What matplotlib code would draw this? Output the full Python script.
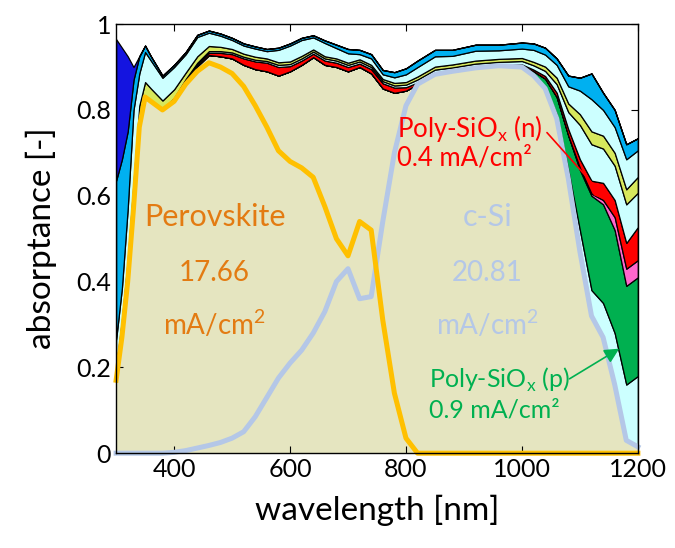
import numpy as np
import matplotlib
matplotlib.use("Agg")
import matplotlib.pyplot as plt
from matplotlib.ticker import FuncFormatter

plt.rcParams['font.family'] = ['Lato', 'DejaVu Sans']

# -------------------------------
# Data (absorptance per layer)
# -------------------------------

wl = [300, 310, 320, 330, 340, 350, 360, 380, 400, 420, 440, 460, 480, 500, 520,
      540, 560, 580, 600, 620, 640, 660, 680, 700, 720, 740, 760, 780, 800, 820,
      850, 880, 920, 960, 1000, 1020, 1040, 1060, 1080, 1100, 1120, 1140, 1160, 1180, 1200]

perovskite = [0.17, 0.27, 0.40, 0.57, 0.76, 0.83, 0.82, 0.80, 0.82, 0.86, 0.89, 0.91, 0.90, 0.885, 0.855,
              0.81, 0.76, 0.705, 0.68, 0.665, 0.643, 0.575, 0.50, 0.46, 0.54, 0.52, 0.31, 0.14, 0.035, 0.0,
              0, 0, 0, 0, 0, 0, 0, 0, 0, 0, 0, 0, 0, 0, 0]

csi = [0, 0, 0, 0, 0, 0, 0, 0, 0.002, 0.006, 0.012, 0.018, 0.025, 0.035, 0.05,
       0.085, 0.13, 0.175, 0.21, 0.24, 0.28, 0.33, 0.40, 0.43, 0.36, 0.365, 0.54, 0.70, 0.81, 0.86,
       0.883, 0.89, 0.898, 0.903, 0.90, 0.88, 0.85, 0.78, 0.64, 0.47, 0.32, 0.27, 0.16, 0.03, 0.015]

# parasitic layers, bottom to top
rear_cyan = [0, 0, 0, 0, 0, 0, 0, 0, 0, 0, 0, 0, 0, 0, 0,
             0, 0, 0, 0, 0, 0, 0, 0, 0, 0, 0, 0, 0, 0, 0,
             0, 0, 0, 0, 0, 0, 0.003, 0.01, 0.02, 0.05, 0.06, 0.08, 0.12, 0.13, 0.165]

poly_p = [0, 0, 0, 0, 0, 0, 0, 0, 0, 0, 0, 0, 0, 0, 0,
          0, 0, 0, 0, 0, 0, 0, 0, 0, 0, 0, 0, 0, 0, 0,
          0, 0, 0, 0, 0.003, 0.01, 0.02, 0.04, 0.08, 0.14, 0.22, 0.23, 0.24, 0.23, 0.23]

pink = [0, 0, 0, 0, 0, 0, 0, 0, 0, 0, 0, 0, 0, 0, 0,
        0, 0, 0, 0, 0, 0, 0, 0, 0, 0, 0, 0, 0, 0, 0,
        0, 0, 0, 0, 0, 0, 0, 0, 0, 0.005, 0.005, 0.01, 0.03, 0.04, 0.04]

poly_n = [0, 0, 0, 0, 0, 0, 0, 0.002, 0.003, 0.003, 0.004, 0.005, 0.008, 0.01, 0.015,
          0.018, 0.02, 0.02, 0.012, 0.01, 0.008, 0.01, 0.01, 0.01, 0.008, 0.01, 0.012, 0.012, 0.008, 0.004,
          0.003, 0.002, 0.002, 0.002, 0.003, 0.004, 0.006, 0.01, 0.015, 0.02, 0.03, 0.04, 0.04, 0.06, 0.077]

mid_cyan = [0, 0, 0, 0, 0, 0, 0, 0, 0.003, 0.003, 0.004, 0.004, 0.004, 0.004, 0.004,
            0.004, 0.004, 0.005, 0.005, 0.005, 0.005, 0.005, 0.005, 0.005, 0.005, 0.005, 0.005, 0.005, 0.006, 0.007,
            0.008, 0.007, 0.008, 0.007, 0.008, 0.01, 0.012, 0.02, 0.04, 0.08, 0.085, 0.08, 0.08, 0.09, 0.08]

yellow = [0.03, 0.04, 0.05, 0.06, 0.05, 0.035, 0.03, 0.02, 0.02, 0.015, 0.015, 0.012, 0.01, 0.008, 0.007,
          0.007, 0.006, 0.006, 0.006, 0.006, 0.005, 0.005, 0.005, 0.005, 0.005, 0.005, 0.005, 0.006, 0.006, 0.007,
          0.007, 0.007, 0.007, 0.007, 0.007, 0.008, 0.01, 0.015, 0.02, 0.025, 0.03, 0.03, 0.03, 0.035, 0.037]

front_cyan = [0.065, 0.075, 0.12, 0.17, 0.075, 0.07, 0.065, 0.053, 0.052, 0.043, 0.045, 0.031, 0.026, 0.021, 0.019,
              0.019, 0.017, 0.029, 0.037, 0.037, 0.028, 0.031, 0.024, 0.022, 0.012, 0.015, 0.011, 0.013, 0.018, 0.022,
              0.024, 0.02, 0.023, 0.02, 0.022, 0.028, 0.028, 0.03, 0.04, 0.055, 0.075, 0.06, 0.06, 0.07, 0.062]

sky = [0.37, 0.30, 0.18, 0.07, 0.04, 0.015, 0.01, 0.005, 0.005, 0.005, 0.005, 0.005, 0.005, 0.005, 0.005,
       0.005, 0.005, 0.005, 0.005, 0.005, 0.005, 0.006, 0.008, 0.01, 0.01, 0.01, 0.01, 0.012, 0.014, 0.015,
       0.015, 0.014, 0.014, 0.013, 0.014, 0.015, 0.016, 0.015, 0.025, 0.03, 0.06, 0.04, 0.04, 0.035, 0.028]

front_blue = [0.33, 0.26, 0.175, 0.03, 0, 0, 0, 0, 0, 0, 0, 0, 0, 0, 0,
              0, 0, 0, 0, 0, 0, 0, 0, 0, 0, 0, 0, 0, 0, 0,
              0, 0, 0, 0, 0, 0, 0, 0, 0, 0, 0, 0, 0, 0, 0]

layers = [rear_cyan, poly_p, pink, poly_n, mid_cyan, yellow, front_cyan, sky, front_blue]
layer_colors = ['#ccffff', '#00b050', '#ff66cc', '#ff0000', '#ccffff',
                '#d7e85c', '#ccffff', '#00b0f0', '#1414e0']

# -------------------------------
# Plot
# -------------------------------

fig = plt.figure(figsize=(6.75, 5.48), dpi=100)
ax = fig.add_axes([0.172, 0.173, 0.773, 0.783])

wl_arr = np.array(wl)
bottom = np.array(perovskite) + np.array(csi)
ax.fill_between(wl_arr, 0, bottom, color='#e5e5c0', lw=0, zorder=1)

for vals, col in zip(layers, layer_colors):
    top = bottom + np.array(vals)
    ax.fill_between(wl_arr, bottom, top, facecolor=col, edgecolor='black',
                    lw=0.9, zorder=2)
    bottom = top

ax.plot(wl_arr, perovskite, color='#ffc000', lw=3.6, zorder=4, clip_on=False)
ax.plot(wl_arr, csi, color='#b4c7e7', lw=3.6, zorder=3, clip_on=False)

# short-circuit current labels
ax.text(470, 0.55, 'Perovskite', color='#e37b12', fontsize=22, ha='center', va='center', zorder=6)
ax.text(470, 0.42, '17.66', color='#e37b12', fontsize=20, ha='center', va='center', zorder=6)
ax.text(470, 0.30, r'mA/cm$^\mathregular{2}$', color='#e37b12', fontsize=20, ha='center', va='center', zorder=6)

ax.text(940, 0.55, 'c-Si', color='#b4c7e7', fontsize=22, ha='center', va='center', zorder=6)
ax.text(940, 0.42, '20.81', color='#b4c7e7', fontsize=20, ha='center', va='center', zorder=6)
ax.text(940, 0.30, r'mA/cm$^\mathregular{2}$', color='#b4c7e7', fontsize=20, ha='center', va='center', zorder=6)

ax.text(785, 0.757, r'Poly-SiO$_\mathregular{x}$ (n)', color='red', fontsize=18.5, ha='left', va='center', zorder=6)
ax.text(785, 0.687, '0.4 mA/cm²', color='red', fontsize=18.5, ha='left', va='center', zorder=6)
ax.annotate('', xy=(1152, 0.583), xytext=(1040, 0.752),
            arrowprops=dict(arrowstyle='-|>', color='red', lw=1.2, mutation_scale=22), zorder=6)

ax.text(840, 0.17, r'Poly-SiO$_\mathregular{x}$ (p)', color='#00b050', fontsize=18, ha='left', va='center', zorder=6)
ax.text(840, 0.10, '0.9 mA/cm²', color='#00b050', fontsize=18, ha='left', va='center', zorder=6)
ax.annotate('', xy=(1172, 0.247), xytext=(1078, 0.17),
            arrowprops=dict(arrowstyle='-|>', color='#00b050', lw=1.2, mutation_scale=22), zorder=6)

ax.set_xlim(300, 1200)
ax.set_ylim(0, 1)
ax.set_xticks([400, 600, 800, 1000, 1200])
ax.set_yticks([0, 0.2, 0.4, 0.6, 0.8, 1])
ax.yaxis.set_major_formatter(FuncFormatter(lambda v, p: '%g' % v))
ax.tick_params(direction='in', top=True, right=True, labelsize=18, length=5, width=0.8)
for s in ax.spines.values():
    s.set_linewidth(1.0)
    s.set_zorder(7)

ax.set_xlabel('wavelength [nm]', fontsize=24, labelpad=10)
ax.set_ylabel('absorptance [-]', fontsize=24, labelpad=14)

fig.savefig('out.png', dpi=100)
